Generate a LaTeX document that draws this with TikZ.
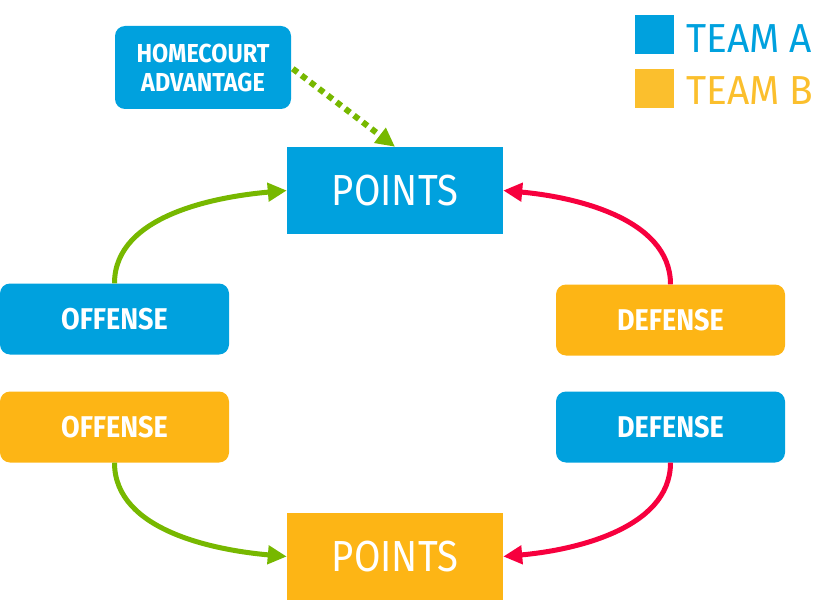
\documentclass[tikz,border=0pt]{standalone}
\usepackage{fontspec}
\usetikzlibrary{arrows.meta}
\newfontfamily\condB[FakeStretch=0.9]{Fira Sans}
\newfontfamily\condR[FakeStretch=0.88]{Fira Sans}
\newfontfamily\legR[FakeStretch=0.96]{Fira Sans}
\definecolor{tblue}{HTML}{00A1DE}
\definecolor{tyel}{HTML}{FDB515}
\definecolor{lyel}{HTML}{FBBF2D}
\definecolor{tgreen}{HTML}{77B800}
\definecolor{tred}{HTML}{F7003E}
\tikzset{
  rbox/.style={rounded corners=10pt, inner sep=0pt, minimum width=229pt, minimum height=71pt,
    text=white, font=\condB\bfseries\fontsize{30}{32}\selectfont},
  ptsbox/.style={inner sep=0pt, minimum width=216pt, minimum height=87pt,
    text=white, font=\condR\fontsize{43.5}{46}\selectfont},
  conn/.style={line width=5pt, -{Triangle[length=19pt,width=18pt]}},
  legsq/.style={inner sep=0pt, minimum size=39pt},
  legtxt/.style={anchor=base west, inner sep=0pt, font=\legR\fontsize{40.5}{42}\selectfont}
}
\begin{document}
\begin{tikzpicture}[x=1pt,y=-1pt]
\useasboundingbox (0,0) rectangle (838,607);
% nodes
\node[rbox, fill=tblue, minimum width=176pt, minimum height=83pt, align=center,
  font=\condB\bfseries\fontsize{26}{29}\selectfont] (hc) at (203,67.5) {HOMECOURT\\ADVANTAGE};
\node[ptsbox, fill=tblue] (ptsA) at (395,190.5) {POINTS};
\node[ptsbox, fill=tyel] (ptsB) at (395,556.5) {POINTS};
\node[rbox, fill=tblue] (offA) at (114.5,319) {OFFENSE};
\node[rbox, fill=tyel] (offB) at (114.5,427) {OFFENSE};
\node[rbox, fill=tyel] (defB) at (670.5,320) {DEFENSE};
\node[rbox, fill=tblue] (defA) at (670.5,427) {DEFENSE};
% legend
\node[legsq, fill=tblue] (legA) at (654.5,34.5) {};
\node[legsq, fill=lyel] (legB) at (654.5,89) {};
\node[legtxt, text=tblue] (legAt) at (686,53) {TEAM A};
\node[legtxt, text=lyel] (legBt) at (686,105) {TEAM B};
% connectors
\draw[conn, tgreen] (offA.north) to[out=90, in=185, looseness=0.9] (ptsA.west);
\draw[conn, tred] (defB.north) to[out=90, in=-5, looseness=0.9] (ptsA.east);
\draw[conn, tgreen] (offB.south) to[out=-90, in=175, looseness=0.9] (ptsB.west);
\draw[conn, tred] (defA.south) to[out=-90, in=5, looseness=0.9] (ptsB.east);
\draw[tgreen, line width=6pt, dash pattern=on 6pt off 5pt, -{Triangle[length=19pt,width=18pt]}, shorten <=2pt] (hc.east) -- (ptsA.north);
\end{tikzpicture}
\end{document}
